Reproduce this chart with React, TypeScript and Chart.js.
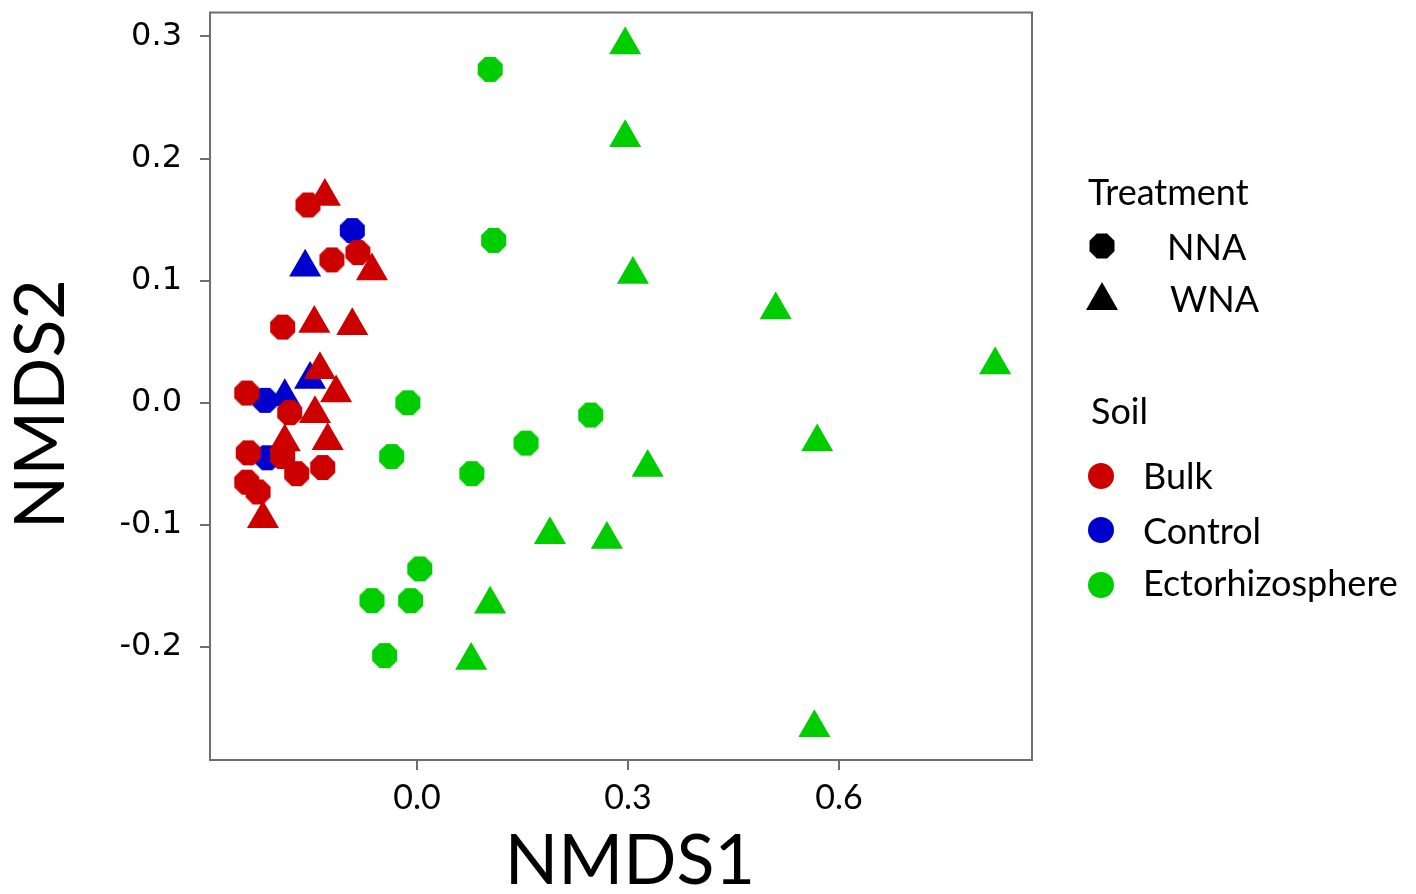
import React, { useEffect, useRef } from "react";
import { Chart, registerables } from "chart.js";

Chart.register(...registerables);

// ---- Data (NMDS coordinates) ----
const xTicks = [0, 0.3, 0.6];
const yTicks = [-0.2, -0.1, 0, 0.1, 0.2, 0.3];

const bulkNnaX = [-0.155, -0.121, -0.084, -0.191, -0.242, -0.181, -0.24, -0.191, -0.171, -0.134, -0.242, -0.226];
const bulkNnaY = [0.162, 0.117, 0.123, 0.062, 0.008, -0.008, -0.041, -0.044, -0.058, -0.053, -0.065, -0.073];
const bulkWnaX = [-0.131, -0.064, -0.146, -0.092, -0.138, -0.115, -0.145, -0.127, -0.188, -0.219];
const bulkWnaY = [0.169, 0.108, 0.065, 0.063, 0.027, 0.008, -0.009, -0.031, -0.032, -0.095];
const controlNnaX = [-0.092, -0.216, -0.213];
const controlNnaY = [0.141, 0.002, -0.045];
const controlWnaX = [-0.159, -0.152, -0.188];
const controlWnaY = [0.111, 0.019, 0.005];
const ectoNnaX = [0.104, 0.109, -0.013, -0.036, 0.078, 0.155, 0.247, 0.004, -0.064, -0.009, -0.046];
const ectoNnaY = [0.273, 0.133, 0.0, -0.044, -0.058, -0.033, -0.01, -0.136, -0.162, -0.162, -0.207];
const ectoWnaX = [0.296, 0.296, 0.307, 0.51, 0.822, 0.569, 0.328, 0.189, 0.27, 0.104, 0.077, 0.565];
const ectoWnaY = [0.293, 0.217, 0.105, 0.076, 0.031, -0.032, -0.053, -0.108, -0.112, -0.165, -0.211, -0.266];

const soilNames = ["Bulk", "Control", "Ectorhizosphere"];
const treatmentNames = ["NNA", "WNA"];

const RED = "#CD0000";
const BLUE = "#0000CD";
const GREEN = "#00CD00";

const zip = (xs: number[], ys: number[]) => xs.map((x, i) => ({ x, y: ys[i] }));

function octagon(color: string, flat: number): HTMLCanvasElement {
  const size = Math.ceil(flat) + 2;
  const c = document.createElement("canvas");
  c.width = size;
  c.height = size;
  const ctx = c.getContext("2d")!;
  const r = flat / 2 / Math.cos(Math.PI / 8);
  ctx.fillStyle = color;
  ctx.beginPath();
  for (let i = 0; i < 8; i++) {
    const a = Math.PI / 8 + (i * Math.PI) / 4;
    const px = size / 2 + r * Math.cos(a);
    const py = size / 2 + r * Math.sin(a);
    if (i === 0) ctx.moveTo(px, py);
    else ctx.lineTo(px, py);
  }
  ctx.closePath();
  ctx.fill();
  return c;
}

const boxPlugin = {
  id: "boxPlugin",
  afterDraw(chart: any) {
    const { ctx, chartArea } = chart;
    ctx.save();
    ctx.strokeStyle = "#6e6e6e";
    ctx.lineWidth = 2;
    ctx.strokeRect(chartArea.left, chartArea.top, chartArea.right - chartArea.left, chartArea.bottom - chartArea.top);
    ctx.restore();
  },
};

const CANVAS_SHIFT = 6;

function App() {
  const ref = useRef<HTMLCanvasElement | null>(null);

  useEffect(() => {
    if (!ref.current) return;
    const HEX = 25;
    const TRI = 18.5;
    const tri = (label: string, data: any[], color: string) => ({
      label,
      data,
      pointStyle: "triangle",
      pointRadius: TRI,
      backgroundColor: color,
      borderWidth: 0,
      showLine: false,
    });
    const hex = (label: string, data: any[], color: string) => ({
      label,
      data,
      pointStyle: octagon(color, HEX),
      pointRadius: HEX / 2,
      backgroundColor: color,
      borderWidth: 0,
      showLine: false,
    });

    const chart = new Chart(ref.current, {
      type: "scatter",
      data: {
        datasets: [
          tri(soilNames[0] + " " + treatmentNames[1], zip(bulkWnaX, bulkWnaY), RED),
          hex(soilNames[0] + " " + treatmentNames[0], zip(bulkNnaX, bulkNnaY), RED),
          tri(soilNames[1] + " " + treatmentNames[1], zip(controlWnaX, controlWnaY), BLUE),
          hex(soilNames[1] + " " + treatmentNames[0], zip(controlNnaX, controlNnaY), BLUE),
          tri(soilNames[2] + " " + treatmentNames[1], zip(ectoWnaX, ectoWnaY), GREEN),
          hex(soilNames[2] + " " + treatmentNames[0], zip(ectoNnaX, ectoNnaY), GREEN),
        ] as any,
      },
      options: {
        responsive: false,
        animation: false,
        events: [],
        layout: { padding: { top: 6, right: 384, left: 0, bottom: 0 } },
        plugins: { legend: { display: false }, tooltip: { enabled: false } },
        scales: {
          x: {
            type: "linear",
            min: -0.2943,
            max: 0.8744,
            afterBuildTicks: (s: any) => {
              s.ticks = xTicks.map((v) => ({ value: v }));
            },
            afterFit: (s: any) => {
              s.height = 134;
              s.paddingLeft = 0;
              s.paddingRight = 0;
            },
            ticks: {
              callback: (v: any) => Number(v).toFixed(1),
              font: { family: "Lato", size: 34 },
              color: "#000",
              padding: 8,
              maxRotation: 0,
            },
            grid: { drawOnChartArea: false, drawTicks: true, tickLength: 10, color: "#6e6e6e", lineWidth: 2 },
            border: { display: false },
            title: {
              display: true,
              text: " NMDS1",
              font: { family: "Lato", size: 70, lineHeight: 1 },
              color: "#000",
              padding: { top: 0, bottom: -2 },
            },
          },
          y: {
            type: "linear",
            min: -0.2925,
            max: 0.3196,
            afterBuildTicks: (s: any) => {
              s.ticks = yTicks.map((v) => ({ value: v }));
            },
            afterFit: (s: any) => {
              s.width = 210;
              s.paddingTop = 0;
              s.paddingBottom = 0;
            },
            ticks: {
              callback: (v: any) => Number(v).toFixed(1),
              font: { family: "DejaVu Sans", size: 32 },
              color: "#000",
              padding: 18,
            },
            grid: { drawOnChartArea: false, drawTicks: true, tickLength: 10, color: "#6e6e6e", lineWidth: 2 },
            border: { display: false },
            title: {
              display: true,
              text: "NMDS2  ",
              font: { family: "Lato", size: 70, lineHeight: 1 },
              color: "#000",
              padding: { top: 6, bottom: 0 },
            },
          },
        },
      },
      plugins: [boxPlugin],
    });
    return () => chart.destroy();
  }, []);

  const LF = 36;
  const textStyle = (left: number, cy: number): React.CSSProperties => ({
    position: "absolute",
    left,
    top: cy - 0.527 * LF,
    fontFamily: "Lato",
    fontSize: LF,
    lineHeight: `${LF}px`,
    color: "#000",
    whiteSpace: "nowrap",
  });
  const markerStyle = (cx: number, cy: number, w: number, h: number): React.CSSProperties => ({
    position: "absolute",
    left: cx - w / 2,
    top: cy - h / 2,
    width: w,
    height: h,
  });
  const octPoints = (() => {
    const r = 12.5 / Math.cos(Math.PI / 8);
    const pts: string[] = [];
    for (let i = 0; i < 8; i++) {
      const a = Math.PI / 8 + (i * Math.PI) / 4;
      pts.push(`${14 + r * Math.cos(a)},${14 + r * Math.sin(a)}`);
    }
    return pts.join(" ");
  })();

  return (
    <div style={{ position: "fixed", left: 0, top: 0, width: 1416, height: 894, background: "#fff", overflow: "hidden" }}>
      <canvas
        ref={ref}
        width={1416}
        height={894 + CANVAS_SHIFT}
        style={{ position: "absolute", left: 0, top: -CANVAS_SHIFT, width: 1416, height: 894 + CANVAS_SHIFT }}
      />
      <div style={textStyle(1088, 192)}>Treatment</div>
      <svg style={markerStyle(1102, 246, 28, 28)} viewBox="0 0 28 28">
        <polygon points={octPoints} fill="#000" />
      </svg>
      <div style={textStyle(1167, 247)}>{treatmentNames[0]}</div>
      <svg style={markerStyle(1102, 296, 34, 30)} viewBox="0 0 34 30">
        <polygon points="17,1 33,29 1,29" fill="#000" />
      </svg>
      <div style={textStyle(1170, 299)}>{treatmentNames[1]}</div>
      <div style={textStyle(1091, 411)}>Soil</div>
      <svg style={markerStyle(1101, 476, 28, 28)} viewBox="0 0 28 28">
        <circle cx={14} cy={14} r={13} fill={RED} />
      </svg>
      <div style={textStyle(1143, 476)}>{soilNames[0]}</div>
      <svg style={markerStyle(1101, 530, 28, 28)} viewBox="0 0 28 28">
        <circle cx={14} cy={14} r={13} fill={BLUE} />
      </svg>
      <div style={textStyle(1143, 531)}>{soilNames[1]}</div>
      <svg style={markerStyle(1101, 585, 28, 28)} viewBox="0 0 28 28">
        <circle cx={14} cy={14} r={13} fill={GREEN} />
      </svg>
      <div style={textStyle(1143, 583)}>{soilNames[2]}</div>
    </div>
  );
}

export default App;
